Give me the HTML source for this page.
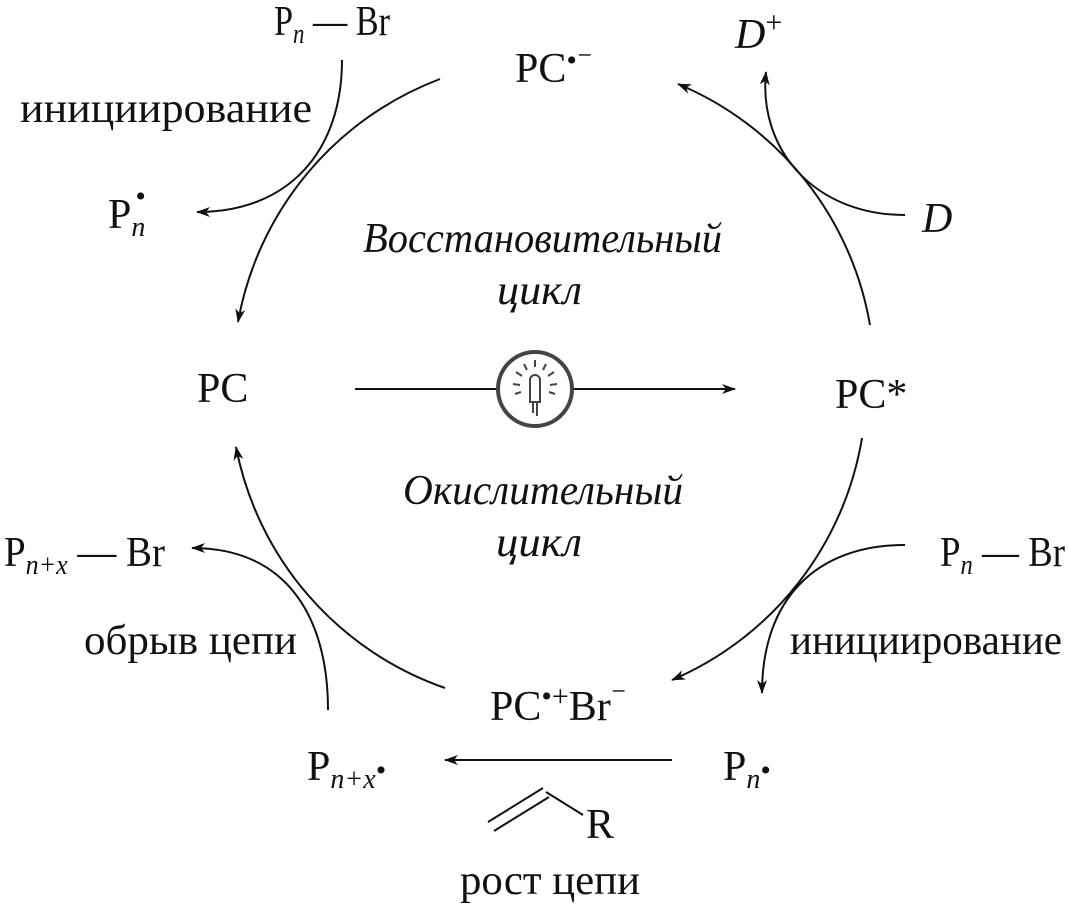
<!DOCTYPE html>
<html><head><meta charset="utf-8"><style>
body{margin:0;background:#fff;}
svg text{font-family:"Liberation Serif",serif;fill:#111;}
</style></head><body>
<svg width="1069" height="904" viewBox="0 0 1069 904" xmlns="http://www.w3.org/2000/svg">
<defs>
<marker id="a" markerWidth="14" markerHeight="10" refX="13" refY="5" orient="auto" markerUnits="userSpaceOnUse">
<path d="M0,0 L14,5 L0,10 L4,5 Z" fill="#111"/>
</marker>
</defs>
<g fill="none" stroke="#111" stroke-width="2">
<path d="M440,79 A320,320 0 0 0 238,322" marker-end="url(#a)"/>
<path d="M870,325 A320,320 0 0 0 678,84" marker-end="url(#a)"/>
<path d="M862,438 A320,320 0 0 1 672,680" marker-end="url(#a)"/>
<path d="M445,688 A320,320 0 0 1 236,447" marker-end="url(#a)"/>
<path d="M342,60 C342,150 290,212 197,212" marker-end="url(#a)"/>
<path d="M905,215 C815,215 758,150 766,72" marker-end="url(#a)"/>
<path d="M905,545 C815,545 762,600 762,693" marker-end="url(#a)"/>
<path d="M328,710 C328,615 285,548 192,548" marker-end="url(#a)"/>
<path d="M355,389 L497,389"/>
<path d="M573,389 L735,389" marker-end="url(#a)"/>
<path d="M672,760 L445,760" marker-end="url(#a)"/>
<path d="M488,822 L543,788 M494,831 L549,797"/>
<path d="M546,792 L583,815"/>
</g>
<g fill="none" stroke="#444" stroke-width="2">
<circle cx="535" cy="389" r="37" stroke-width="4"/>
<path d="M530,402 L530,380 A5,5 0 0 1 540,380 L540,402 Z"/>
<path d="M533,402 L533,413 M537,402 L537,416"/>
<path d="M535,360 L535,367 M524,364 L527,370 M546,364 L543,370 M516,372 L522,376 M554,372 L548,376 M513,384 L520,385 M557,384 L550,385 M515,394 L521,392 M555,394 L549,392"/>
</g>
<g font-size="42">
<text x="274" y="35" textLength="116" lengthAdjust="spacingAndGlyphs">P<tspan font-size="28" font-style="italic" dy="8">n</tspan><tspan dy="-8"> — Br</tspan></text>
<text x="20" y="122" textLength="292" lengthAdjust="spacingAndGlyphs">инициирование</text>
<text x="108" y="228">P<tspan font-size="28" font-style="italic" dy="8">n</tspan><tspan font-size="30" dy="-30" dx="-10">•</tspan></text>
<text x="515" y="82">PC<tspan font-size="30" dy="-12">•</tspan><tspan font-size="30">⁻</tspan></text>
<text x="735" y="48" font-style="italic">D<tspan font-style="normal" font-size="30" dy="-16">+</tspan></text>
<text x="922" y="232" font-style="italic">D</text>
<text x="363" y="252" font-style="italic" textLength="359" lengthAdjust="spacingAndGlyphs">Восстановительный</text>
<text x="497" y="304" font-style="italic" textLength="85" lengthAdjust="spacingAndGlyphs">цикл</text>
<text x="197" y="402">PC</text>
<text x="835" y="408">PC*</text>
<text x="403" y="504" font-style="italic" textLength="280" lengthAdjust="spacingAndGlyphs">Окислительный</text>
<text x="496" y="556" font-style="italic" textLength="86" lengthAdjust="spacingAndGlyphs">цикл</text>
<text x="4" y="566" textLength="161" lengthAdjust="spacingAndGlyphs">P<tspan font-size="28" font-style="italic" dy="8">n+x</tspan><tspan dy="-8"> — Br</tspan></text>
<text x="940" y="566" textLength="125" lengthAdjust="spacingAndGlyphs">P<tspan font-size="28" font-style="italic" dy="8">n</tspan><tspan dy="-8"> — Br</tspan></text>
<text x="84" y="654" textLength="213" lengthAdjust="spacingAndGlyphs">обрыв цепи</text>
<text x="790" y="654" textLength="272" lengthAdjust="spacingAndGlyphs">инициирование</text>
<text x="490" y="720">PC<tspan font-size="30" dy="-14">•+</tspan><tspan dy="14">Br</tspan><tspan font-size="30" dy="-14">⁻</tspan></text>
<text x="307" y="780">P<tspan font-size="28" font-style="italic" dy="8">n+x</tspan><tspan font-size="30" dy="-8">•</tspan></text>
<text x="723" y="780">P<tspan font-size="28" font-style="italic" dy="8">n</tspan><tspan font-size="30" dy="-8">•</tspan></text>
<text x="586" y="838">R</text>
<text x="460" y="894" textLength="180" lengthAdjust="spacingAndGlyphs">рост цепи</text>
</g>
</svg>
</body></html>
